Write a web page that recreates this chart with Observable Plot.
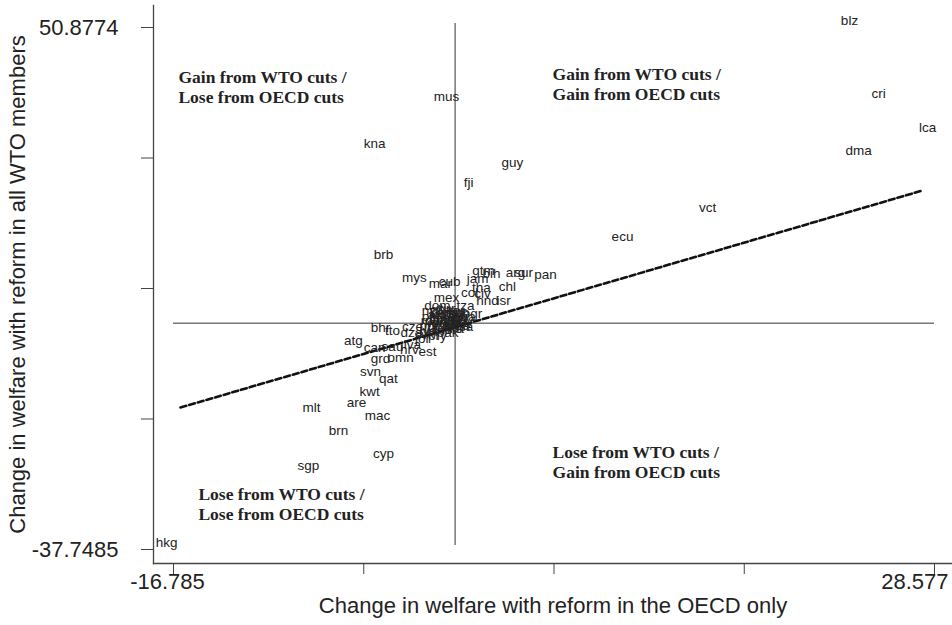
<!DOCTYPE html>
<html>
<head>
<meta charset="utf-8">
<script src="https://cdn.jsdelivr.net/npm/d3@7"></script>
<script src="https://cdn.jsdelivr.net/npm/@observablehq/plot@0.6"></script>
<style>
  html, body { margin: 0; padding: 0; background: #fff; }
  #chart { width: 952px; height: 625px; }
</style>
</head>
<body>
<div id="chart"></div>
<script>
// ---- Data: change in welfare (OECD-only reform vs. all-WTO reform) ----
const countries = [
  "blz","cri","lca","dma","vct","ecu","guy","fji","mus","kna",
  "brb","mys","mar","cub","gtm","bih","jam","arg","sur","pan",
  "tha","chl","col","civ","hnd","isr","mex","tza","bgr",
  "dom","tur","ken","per","ury","bra","ind","idn","zaf","egy",
  "phl","tun","lka","pak","ven","nga","kor","bol","svk","rou",
  "gha","mdg","nic","slv","cmr","sen","uga","moz","mwi","zmb",
  "jpn","usa","aus","nzl","che","nor","isl",
  "bhr","tto","cze","dza","jor","pry","atg","can","sau","lva",
  "grd","omn","hrv","est","svn","qat","kwt","are","mlt","mac",
  "brn","cyp","sgp","hkg"
];
const oecdOnly = [
  23.51, 25.24, 28.16, 24.05, 15.05, 9.98, 3.42, 0.80, -0.51, -4.80,
  -4.27, -2.42, -0.87, -0.33, 1.69, 2.17, 1.34, 3.60, 4.08, 5.39,
  1.57, 3.12, 0.86, 1.63, 1.93, 2.89, -0.51, 0.62, 1.04,
  -1.05, -0.45, -0.87, -1.41, -0.15, -0.57, 0.20, -1.05, -0.21, 0.44,
  -1.58, -0.75, 0.02, -0.45, -1.29, 0.56, 0.02, -1.58, -1.82, -1.47,
  -0.81, -0.27, -0.57, 0.08, -0.87, -0.33, 0.20, -1.11, -0.57, -0.15,
  0.32, 0.44, -0.99, -1.47, 0.02, -1.23, -0.39,
  -4.45, -3.73, -2.54, -2.60, -1.94, -1.05, -6.06, -4.80, -3.73, -2.54,
  -4.45, -3.25, -2.72, -1.64, -5.04, -3.97, -5.10, -5.88, -8.56, -4.63,
  -6.95, -4.27, -8.74, -17.20
];
const allWto = [
  51.39, 38.99, 33.22, 29.32, 19.64, 14.71, 27.28, 23.88, 38.48, 30.50,
  11.66, 7.75, 6.73, 7.07, 8.94, 8.43, 7.58, 8.60, 8.60, 8.26,
  6.06, 6.22, 5.21, 5.04, 3.85, 3.85, 4.36, 3.00, 1.64,
  3.00, 2.49, 1.81, 1.13, 1.30, 0.45, 0.79, 0.11, -0.23, 0.45,
  -0.40, -0.91, -0.91, -1.59, -1.25, 1.13, 2.15, -1.42, -1.92, 0.45,
  2.32, 1.81, 1.13, 1.64, 0.79, 0.11, -0.40, -0.57, -0.40, 0.62,
  1.81, -0.57, 1.47, 2.15, 0.11, 0.45, -1.08,
  -0.74, -1.25, -0.57, -1.59, -2.60, -2.09, -2.94, -4.13, -3.96, -3.62,
  -6.00, -5.83, -4.47, -4.81, -8.21, -9.40, -11.60, -13.47, -14.32, -15.68,
  -18.22, -22.13, -24.17, -37.24
];

// Fitted (dashed) line end points
const fitX = [-16.37, 27.86];
const fitY = [-14.32, 22.52];

// Axis ticks and labels
const xDomain = [-16.785, 28.577];
const yDomain = [-37.7485, 50.8774];
const xTicks = [-16.785, -5.4445, 5.896, 17.2365, 28.577];
const xTickLabels = ["-16.785", "", "", "", "28.577"];
const yTicks = [-37.7485, -15.592, 6.5644, 28.7209, 50.8774];
const yTickLabels = ["-37.7485", "", "", "", "50.8774"];
const xTitle = "Change in welfare with reform in the OECD only";
const yTitle = "Change in welfare with reform in all WTO members";

// Quadrant notes
const noteText = [
  "Gain from WTO cuts /\nLose from OECD cuts",
  "Gain from WTO cuts /\nGain from OECD cuts",
  "Lose from WTO cuts /\nGain from OECD cuts",
  "Lose from WTO cuts /\nLose from OECD cuts"
];
const noteX = [-16.49, 5.81, 5.81, -15.30];
const noteY = [40.2, 40.69, -23.57, -30.62];

// ---- Build tables ----
const points = countries.map((c, i) => ({c, x: oecdOnly[i], y: allWto[i]}));
const fit = fitX.map((x, i) => ({x, y: fitY[i]}));
const notes = noteText.map((t, i) => ({t, x: noteX[i], y: noteY[i]}));
const xLabFirst = [{x: xTicks[0], t: xTickLabels[0]}];
const xLabLast = [{x: xTicks[4], t: xTickLabels[4]}];

const chart = Plot.plot({
  width: 952,
  height: 625,
  marginLeft: 153,
  marginRight: 0,
  marginTop: 5,
  marginBottom: 62,
  style: {fontFamily: "'Liberation Sans', Arial, sans-serif", background: "#fff", color: "#222"},
  x: {domain: xDomain, insetLeft: 20, insetRight: 18},
  y: {domain: yDomain, insetTop: 18, insetBottom: 18},
  marks: [
    Plot.frame({anchor: "left", stroke: "#444", strokeWidth: 1.3}),
    Plot.frame({anchor: "bottom", stroke: "#444", strokeWidth: 1.3}),
    Plot.axisX(xTicks, {
      tickSize: 11, stroke: "#444", tickFormat: () => "", label: null
    }),
    Plot.text(xLabFirst, {x: "x", text: "t", frameAnchor: "bottom", dy: 25, dx: -6, fontSize: 22, fill: "#222"}),
    Plot.text(xLabLast, {x: "x", text: "t", frameAnchor: "bottom", dy: 25, dx: 14, textAnchor: "end", fontSize: 22, fill: "#222"}),
    Plot.axisY(yTicks, {
      tickSize: 12, tickPadding: 23, fontSize: 22, dy: 4, stroke: "#444",
      tickFormat: d => yTickLabels[yTicks.indexOf(d)], label: null
    }),
    Plot.ruleY([0], {x1: xDomain[0], x2: xDomain[1], stroke: "#333", strokeWidth: 1}),
    Plot.ruleX([0], {y1: yDomain[0], y2: yDomain[1], stroke: "#333", strokeWidth: 1}),
    Plot.line(fit, {x: "x", y: "y", stroke: "#111", strokeWidth: 2.6, strokeDasharray: "6,3"}),
    Plot.text(points, {x: "x", y: "y", text: "c", fontSize: 13.5, fill: "#222"}),
    Plot.text(notes, {
      x: "x", y: "y", text: "t", textAnchor: "start", lineAnchor: "middle",
      lineHeight: 1.15, fontSize: 17.5, fontWeight: "bold",
      fontFamily: "'Liberation Serif', 'Times New Roman', serif", fill: "#222"
    }),
    Plot.text([xTitle], {frameAnchor: "bottom", dy: 49, fontSize: 22, fill: "#222"}),
    Plot.text([yTitle], {frameAnchor: "left", dx: -136, rotate: -90, textAnchor: "middle", fontSize: 22, fill: "#222"})
  ]
});
document.getElementById("chart").appendChild(chart);
</script>
</body>
</html>
